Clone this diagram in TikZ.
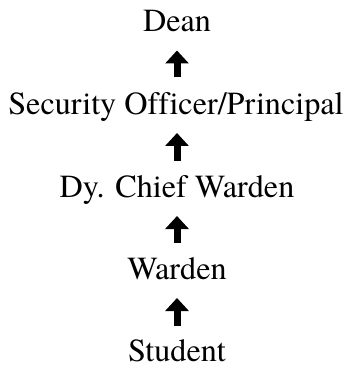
\documentclass[tikz,border=0pt]{standalone}
\usepackage{fontspec}
\setmainfont[Ligatures=NoCommon]{TeX Gyre Termes}
\usetikzlibrary{arrows.meta}
\tikzset{
  lbl/.style={inner sep=0pt, outer sep=0pt, text height=22pt, text depth=7pt, anchor=base, font=\fontsize{32.2}{38}\selectfont},
  uparr/.style={line width=7pt, -{Triangle[width=23pt,length=13pt]}, shorten >=11.5pt, shorten <=15pt}
}
\begin{document}
\begin{tikzpicture}
\useasboundingbox (0pt,0pt) rectangle (347pt,-366pt);
\node[lbl] (dean) at (177pt,-32pt) {Dean};
\node[lbl] (sec) at (176pt,-114.5pt) {Security Officer/Principal};
\node[lbl] (dy) at (177pt,-197.5pt) {Dy. Chief Warden};
\node[lbl] (war) at (177pt,-279.5pt) {Warden};
\node[lbl, text depth=2pt] (stu) at (177pt,-361.5pt) {Student};
\draw[uparr] (sec.north -| dean.south) -- (dean.south);
\draw[uparr] (dy.north) -- (sec.south -| dy.north);
\draw[uparr] (war.north) -- (dy.south);
\draw[uparr, shorten <=14pt] (stu.north) -- (war.south);
\end{tikzpicture}
\end{document}
